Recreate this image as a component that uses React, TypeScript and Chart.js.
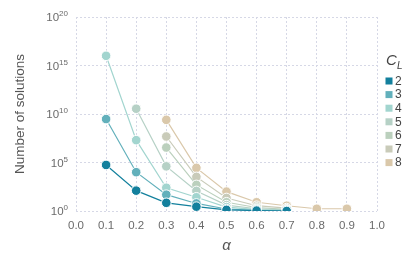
import React, { useEffect, useRef } from "react";
import { Chart, registerables } from "chart.js";
Chart.register(...registerables);

const alphas = [0.1, 0.2, 0.3, 0.4, 0.5, 0.6, 0.7, 0.8, 0.9];
const seriesLabels = ["2", "3", "4", "5", "6", "7", "8"];
const cl2 = [5.6e4, 125, 7, 2.8, 1.3, 1.1, 1.0, null, null];
const cl3 = [3e9, 1e4, 48, 6, 1.6, 1.2, 1.1, null, null];
const cl4 = [1e16, 2e7, 250, 26, 2.5, 1.4, 1.2, null, null];
const cl5 = [null, 3.5e10, 4e4, 117, 4, 1.7, 1.3, null, null];
const cl6 = [null, null, 3.5e6, 490, 8, 2.3, 1.5, null, null];
const cl7 = [null, null, 4.8e7, 3.3e3, 22, 3.5, 2.0, null, null];
const cl8 = [null, null, 2.5e9, 2.8e4, 100, 8, 3.5, 1.7, 1.7];
const seriesValues = [cl2, cl3, cl4, cl5, cl6, cl7, cl8];
const colors = ["#13809d", "#62b0bb", "#a2d5cf", "#b6d1c6", "#bbd0bd", "#c9cbb9", "#dac8aa"];
const yTickExps = [0, 5, 10, 15, 20];
const xTicks = [0, 0.1, 0.2, 0.3, 0.4, 0.5, 0.6, 0.7, 0.8, 0.9, 1.0];

const FONT = "'Liberation Sans', Arial, sans-serif";

const overlay = {
  id: "overlay",
  afterDraw(chart: any) {
    const ctx = chart.ctx;
    const y = chart.scales.y;
    const area = chart.chartArea;
    ctx.save();
    // y tick labels with superscripts
    ctx.fillStyle = "#6b6b6b";
    ctx.textBaseline = "alphabetic";
    for (const e of yTickExps) {
      const py = y.getPixelForValue(Math.pow(10, e));
      const right = area.left - 8;
      ctx.font = `8px ${FONT}`;
      const sup = String(e);
      const sw = ctx.measureText(sup).width;
      ctx.font = `11.5px ${FONT}`;
      const bw = ctx.measureText("10").width;
      ctx.textAlign = "left";
      ctx.fillText("10", right - sw - bw, py + 4);
      ctx.font = `8px ${FONT}`;
      ctx.fillText(sup, right - sw, py - 1);
    }
    // axis titles
    ctx.fillStyle = "#555";
    ctx.textAlign = "center";
    ctx.textBaseline = "middle";
    ctx.font = `italic 15px ${FONT}`;
    ctx.fillText("α", (area.left + area.right) / 2, 246);
    ctx.save();
    ctx.translate(20, (area.top + area.bottom) / 2);
    ctx.rotate(-Math.PI / 2);
    ctx.font = `13.5px ${FONT}`;
    ctx.fillText("Number of solutions", 0, 0);
    ctx.restore();
    // legend
    ctx.fillStyle = "#444";
    ctx.textAlign = "left";
    ctx.textBaseline = "alphabetic";
    ctx.font = `italic 15px ${FONT}`;
    ctx.fillText("C", 386, 65);
    ctx.font = `italic 10px ${FONT}`;
    ctx.fillText("L", 397, 69);
    ctx.font = `12px ${FONT}`;
    ctx.textBaseline = "middle";
    seriesLabels.forEach((lab, i) => {
      const cy = 81 + i * 13.6;
      ctx.fillStyle = colors[i];
      ctx.fillRect(385.5, cy - 3.5, 7, 7);
      ctx.fillStyle = "#444";
      ctx.fillText(lab, 395, cy + 0.5);
    });
    ctx.restore();
  },
};

export default function App() {
  const ref = useRef<HTMLCanvasElement>(null);
  useEffect(() => {
    const chart = new Chart(ref.current!, {
      type: "line",
      data: {
        datasets: seriesValues.map((vals, i) => ({
          label: seriesLabels[i],
          data: alphas
            .map((a, j) => ({ x: a, y: vals[j] }))
            .filter((p) => p.y !== null) as any,
          borderColor: colors[i],
          backgroundColor: colors[i],
          pointBackgroundColor: colors[i],
          pointBorderColor: "#ffffff",
          pointBorderWidth: 1,
          pointRadius: 4.8,
          borderWidth: 1.2,
          tension: 0,
        })),
      },
      options: {
        animation: false,
        responsive: false,
        maintainAspectRatio: false,
        layout: { padding: { top: 17, right: 38, left: 0, bottom: 0 } },
        plugins: { legend: { display: false }, tooltip: { enabled: false } },
        scales: {
          x: {
            type: "linear",
            min: 0,
            max: 1,
            afterBuildTicks: (s: any) => {
              s.ticks = xTicks.map((v) => ({ value: v }));
            },
            afterFit: (s: any) => {
              s.height = 66;
            },
            border: { display: false, dash: [2, 2] },
            grid: { color: "#d6d8e6", lineWidth: 1, drawTicks: false },
            ticks: {
              color: "#6b6b6b",
              font: { size: 11.5, family: FONT },
              padding: 8,
              callback: (v: any) => Number(v).toFixed(1),
            },
          },
          y: {
            type: "logarithmic",
            min: 1,
            max: 1e20,
            afterBuildTicks: (s: any) => {
              s.ticks = yTickExps.map((e) => ({ value: Math.pow(10, e), major: true }));
            },
            afterFit: (s: any) => {
              s.width = 76;
            },
            border: { display: false, dash: [2, 2] },
            grid: { color: "#d6d8e6", lineWidth: 1, drawTicks: false },
            ticks: { display: false },
          },
        },
      } as any,
      plugins: [overlay],
    });
    return () => chart.destroy();
  }, []);
  return (
    <div style={{ position: "fixed", left: 0, top: 0, width: 415, height: 277, background: "#fff" }}>
      <canvas ref={ref} width={415} height={277} style={{ width: 415, height: 277 }} />
    </div>
  );
}
